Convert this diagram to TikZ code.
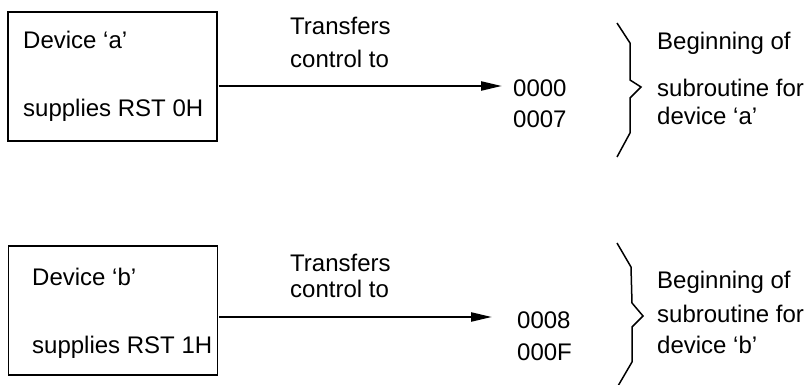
\documentclass[tikz,border=0pt]{standalone}
\usepackage{fontspec}
\setmainfont{Liberation Sans}
\usetikzlibrary{arrows.meta}
\begin{document}
\begin{tikzpicture}[x=1pt,y=-1pt,
  txt/.style={anchor=base west,inner sep=0pt,font=\fontsize{24}{28}\selectfont},
  devbox/.style={draw,line width=1.7pt,minimum width=209pt,minimum height=129pt,inner sep=0pt,outer sep=1.5pt},
  conn/.style={line width=2.3pt,-{Triangle[length=21pt,width=9pt]}},
  bracepath/.style={line width=1.5pt,line join=miter}]
\useasboundingbox (0,0) rectangle (812,385);
% top group
\node[devbox] (boxa) at (112.5,76.5) {};
\node[txt] (da) at (23,49) {Device ‘a’};
\node[txt] (sa) at (23,117) {supplies RST 0H};
\node[txt] (ta1) at (290,35) {Transfers};
\node[txt] (ta2) at (290,68) {control to};
\node[txt] (na1) at (513,97) {0000};
\node[txt] (na2) at (513,128) {0007};
\coordinate (tipa) at (502,86);
\draw[conn] (boxa.east |- tipa) -- (tipa);
\coordinate (bra1) at (617,23);
\coordinate (bra2) at (630,43);
\coordinate (bra3) at (630,80);
\coordinate (bra4) at (641,87);
\coordinate (bra5) at (630,98);
\coordinate (bra6) at (630,133);
\coordinate (bra7) at (617,157);
\draw[bracepath] (bra1) -- (bra2) -- (bra3) -- (bra4) -- (bra5) -- (bra6) -- (bra7);
\node[txt] (ba1) at (657,50) {Beginning of};
\node[txt] (ba2) at (657,97) {subroutine for};
\node[txt] (ba3) at (657,125) {device ‘a’};
% bottom group
\node[devbox] (boxb) at (113,310.5) {};
\node[txt] (db) at (32,285) {Device ‘b’};
\node[txt] (sb) at (32,353) {supplies RST 1H};
\node[txt] (tb1) at (290,272) {Transfers};
\node[txt] (tb2) at (290,297) {control to};
\node[txt] (nb1) at (517,328) {0008};
\node[txt] (nb2) at (517,360) {000F};
\coordinate (tipb) at (492,317);
\draw[conn] (boxb.east |- tipb) -- (tipb);
\coordinate (brb1) at (617,243);
\coordinate (brb2) at (631,267);
\coordinate (brb3) at (632,303);
\coordinate (brb4) at (643,316);
\coordinate (brb5) at (632,327);
\coordinate (brb6) at (632,362);
\coordinate (brb7) at (618,386);
\draw[bracepath] (brb1) -- (brb2) -- (brb3) -- (brb4) -- (brb5) -- (brb6) -- (brb7);
\node[txt] (bb1) at (657,288) {Beginning of};
\node[txt] (bb2) at (657,322) {subroutine for};
\node[txt] (bb3) at (657,353) {device ‘b’};
\end{tikzpicture}
\end{document}
